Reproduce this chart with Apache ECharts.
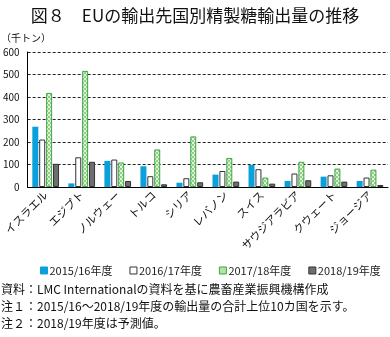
<!DOCTYPE html>
<html><head><meta charset="utf-8">
<script src="https://cdn.jsdelivr.net/npm/echarts@6/dist/echarts.min.js"></script>
<style>html,body{margin:0;padding:0;background:#fff}#c{width:390px;height:337px}</style>
</head><body><div id="c"></div>
<script>
const categories = ['イスラエル','エジプト','ノルウェー','トルコ','シリア','レバノン','スイス','サウジアラビア','クウェート','ジョージア'];
const seriesNames = ['2015/16年度','2016/17年度','2017/18年度','2018/19年度'];
const v2015 = [268, 16, 116, 92, 19, 55, 98, 27, 46, 27];
const v2016 = [211, 132, 122, 48, 39, 71, 79, 60, 52, 42];
const v2017 = [418, 516, 109, 167, 225, 129, 42, 112, 82, 77];
const v2018 = [103, 112, 27, 12, 21, 24, 15, 30, 24, 9];
const yTicks = [0, 100, 200, 300, 400, 500, 600];
const titleText = '図８　EUの輸出先国別精製糖輸出量の推移';
const unitText = '（千トン）';
const notes = ['資料：LMC Internationalの資料を基に農畜産業振興機構作成','注１：2015/16～2018/19年度の輸出量の合計上位10カ国を示す。','注２：2018/19年度は予測値。'];

const FONT = '"Noto Sans CJK JP", sans-serif';
const pc = document.createElement('canvas'); pc.width = 4; pc.height = 4;
const px = pc.getContext('2d');
px.fillStyle = '#e4f3da'; px.fillRect(0,0,4,4);
px.fillStyle = '#8fcf86'; px.fillRect(0,0,2,2); px.fillRect(2,2,2,2);
const greenPattern = {image: pc, repeat: 'repeat'};

const chart = echarts.init(document.getElementById('c'), null, {renderer: 'canvas'});
const styles = [
  {color: '#0aa0dc', borderColor: '#0aa0dc', borderWidth: 0},
  {color: '#ffffff', borderColor: '#333333', borderWidth: 1},
  {color: greenPattern, borderColor: '#3aa845', borderWidth: 1},
  {color: '#6e6e6e', borderColor: '#333333', borderWidth: 1}
];
const legendColors = ['#0aa0dc', '#ffffff', '#b8e0a8', '#6e6e6e'];
const data = [v2015, v2016, v2017, v2018];
chart.setOption({
  animation: false,
  textStyle: {fontFamily: FONT},
  title: {text: titleText, left: 'center', top: 2, textStyle: {fontFamily: FONT, fontSize: 17, fontWeight: 'normal', color: '#111'}},
  grid: {left: 27, right: 2, top: 52, bottom: 150},
  legend: {
    top: 265, left: 40, width: 360, itemWidth: 7, itemHeight: 7, itemGap: 17, padding: 0,
    textStyle: {fontSize: 11, color: '#222', fontFamily: FONT, padding: [0,0,0,-3]},
    data: seriesNames.map((n, i) => ({name: n, icon: 'rect', itemStyle: {color: legendColors[i], borderColor: i === 0 ? '#0aa0dc' : (i === 2 ? '#3aa845' : '#333'), borderWidth: 1}}))
  },
  xAxis: {
    type: 'category', data: categories,
    axisLine: {lineStyle: {color: '#000', width: 1}},
    axisTick: {show: false},
    axisLabel: {rotate: 45, fontSize: 11, color: '#111', interval: 0, margin: 6, fontFamily: FONT}
  },
  yAxis: {
    type: 'value', min: 0, max: 600, interval: 100,
    axisLine: {show: true, lineStyle: {color: '#000', width: 1}},
    axisTick: {show: false},
    axisLabel: {fontSize: 10, color: '#111', margin: 8, fontFamily: FONT},
    splitLine: {lineStyle: {color: '#222', type: [3, 2], width: 1}}
  },
  series: data.map((d, i) => ({
    name: seriesNames[i], type: 'bar', data: d,
    barWidth: 6, barGap: '15%',
    itemStyle: styles[i]
  })),
  graphic: [
    {type: 'text', left: 1, top: 33, style: {text: unitText, fontSize: 10, fill: '#111', fontFamily: FONT}},
    {type: 'text', left: 1, top: 283, style: {text: notes[0], fontSize: 12, fill: '#111', fontFamily: FONT}},
    {type: 'text', left: 1, top: 300, style: {text: notes[1], fontSize: 12, fill: '#111', fontFamily: FONT}},
    {type: 'text', left: 1, top: 317, style: {text: notes[2], fontSize: 12, fill: '#111', fontFamily: FONT}}
  ]
});
</script></body></html>
